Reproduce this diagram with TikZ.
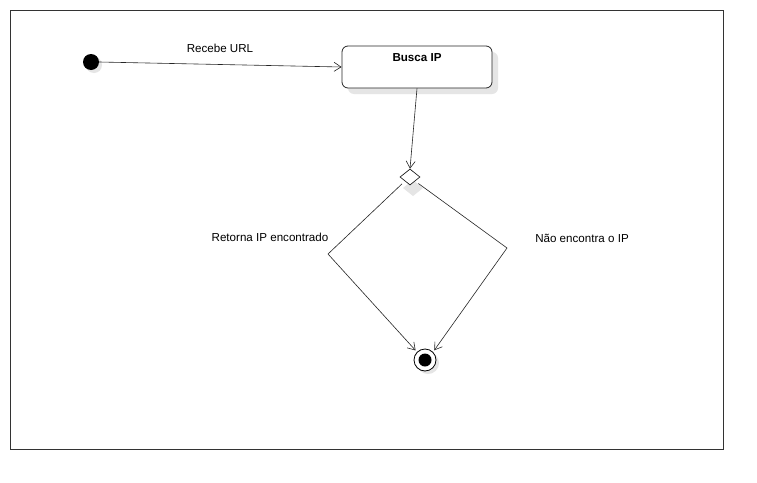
\documentclass[tikz,border=0pt]{standalone}
\usepackage{fontspec}
\setmainfont{Liberation Sans}
\usetikzlibrary{arrows.meta,shapes.geometric}
\begin{document}
\begin{tikzpicture}[x=1pt,y=-1pt,
  lbl/.style={font=\fontsize{11.6}{13}\selectfont, inner sep=0pt},
  conn/.style={draw=black!85, line width=0.6pt, -{Straight Barb[length=7pt,width=9pt]}},
  shadowc/.style={fill=black!10, draw=none}]
\useasboundingbox (0,0) rectangle (757,482);
\fill[white] (0,0) rectangle (757,482);
\draw[black!80, line width=0.8pt] (10.5,10.5) rectangle (723.5,449.5);
% shadows
\fill[shadowc] (94,65) circle (8);
\fill[shadowc, rounded corners=6pt] (348,52) rectangle (498,94);
\fill[shadowc] (413,180) -- (423,188) -- (413,196) -- (403,188) -- cycle;
\fill[shadowc] (428,363) circle (11);
% nodes
\node[circle, fill=black, minimum size=16pt, inner sep=0pt] (start) at (91,62) {};
\node[draw=black!85, line width=0.8pt, fill=white, rounded corners=6pt, minimum width=150pt, minimum height=42pt, inner sep=0pt] (busca) at (417,67) {};
\node[lbl, font=\fontsize{11.6}{13}\selectfont\bfseries] (buscat) at (417,58) {Busca IP};
\node[diamond, draw=black, fill=white, line width=0.6pt, minimum width=20pt, minimum height=16pt, inner sep=0pt, aspect=1.25] (dec) at (410,177) {};
\node[circle, draw=black, fill=white, line width=0.8pt, minimum size=22pt, inner sep=0pt] (final) at (425,360) {};
\node[circle, fill=black, minimum size=13pt, inner sep=0pt] (finalin) at (425,360) {};
% labels
\node[lbl] (l1) at (220,48) {Recebe URL};
\node[lbl] (l2) at (270,237) {Retorna IP encontrado};
\node[lbl] (l3) at (582,238) {Não encontra o IP};
% waypoints
\coordinate (wl) at (328,254);
\coordinate (wr) at (507,248);
% connectors
\draw[conn] (start.east) -- (busca.west);
\draw[conn] (busca.south) -- (dec.north);
\draw[conn, shorten <=4pt, shorten >=2pt] (dec.south west) -- (wl) -- (final.north west);
\draw[conn, shorten <=4pt, shorten >=2pt] (dec.south east) -- (wr) -- (final.north east);
\end{tikzpicture}
\end{document}
